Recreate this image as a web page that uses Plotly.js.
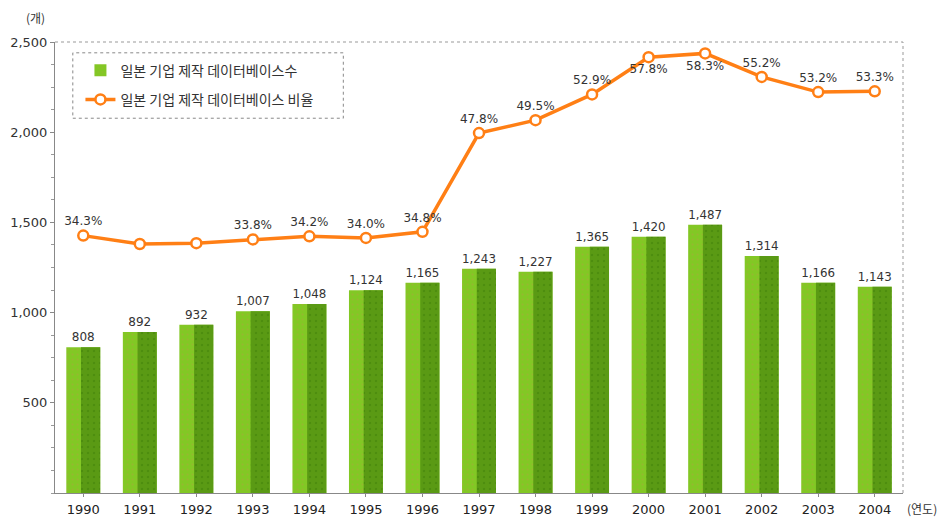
<!DOCTYPE html>
<html>
<head>
<meta charset="utf-8">
<script src="https://cdn.plot.ly/plotly-3.0.1.min.js"></script>
<style>html,body{margin:0;padding:0;background:#fff;}#chart{width:941px;height:521px;}</style>
</head>
<body>
<div id="chart"></div>
<script>
const years = ['1990','1991','1992','1993','1994','1995','1996','1997','1998','1999','2000','2001','2002','2003','2004'];
const dbCount = [808, 892, 932, 1007, 1048, 1124, 1165, 1243, 1227, 1365, 1420, 1487, 1314, 1166, 1143];
const dbRatio = [34.3, 33.2, 33.3, 33.8, 34.2, 34.0, 34.8, 47.8, 49.5, 52.9, 57.8, 58.3, 55.2, 53.2, 53.3];
const ratioLabels = ['34.3%','','','33.8%','34.2%','34.0%','34.8%','47.8%','49.5%','52.9%','57.8%','58.3%','55.2%','53.2%','53.3%'];
const ratioLabelPos = ['top center','top center','top center','top center','top center','top center','top center','top center','top center','top center','bottom center','bottom center','top center','top center','top center'];
const yTicks = [500, 1000, 1500, 2000, 2500];
const yTickText = ['500', '1,000', '1,500', '2,000', '2,500'];

const txtFont = {family: 'DejaVu Sans, sans-serif', size: 12, color: '#333'};

const traces = [
  {
    type: 'bar', x: years, y: dbCount, name: '일본 기업 제작 데이터베이스수',
    width: 0.6, offset: -0.3,
    marker: {color: '#82c824', line: {width: 0},
      pattern: {shape: '.', fgcolor: '#b0a040', size: 5, solidity: 0.12, fillmode: 'overlay'}},
    text: dbCount.map(v => v.toLocaleString('en-US')), textposition: 'outside',
    textfont: txtFont, cliponaxis: false, legendgroup: 'a', hoverinfo: 'x+y'
  },
  {
    type: 'bar', x: years, y: dbCount, showlegend: false,
    width: 0.34, offset: -0.04,
    marker: {color: '#5a9a14', line: {width: 0},
      pattern: {shape: '.', fgcolor: '#3f7f0a', size: 6, solidity: 0.12, fillmode: 'overlay'}},
    legendgroup: 'a', hoverinfo: 'skip'
  },
  {
    type: 'scatter', mode: 'lines+markers+text', x: years, y: dbRatio, yaxis: 'y2',
    name: '일본 기업 제작 데이터베이스 비율',
    line: {color: '#ff7f15', width: 3.5},
    marker: {symbol: 'circle', size: 10, color: '#ffffff', line: {color: '#ff7f15', width: 2.5}},
    text: ratioLabels, textposition: ratioLabelPos, textfont: txtFont,
    cliponaxis: false, legendgroup: 'b'
  }
];

const layout = {
  width: 941, height: 521,
  margin: {l: 55, r: 38, t: 42, b: 28},
  paper_bgcolor: '#ffffff', plot_bgcolor: '#ffffff',
  barmode: 'overlay',
  showlegend: true,
  legend: {
    x: 0.03, y: 0.972, xanchor: 'left', yanchor: 'top',
    bgcolor: 'rgba(0,0,0,0)', borderwidth: 0,
    font: {family: 'Noto Sans CJK KR, sans-serif', size: 14, color: '#333'},
    tracegroupgap: 8, traceorder: 'grouped'
  },
  xaxis: {
    type: 'category', range: [-0.5, 14.5],
    showline: true, linecolor: '#888', linewidth: 1,
    ticks: 'outside', ticklen: 3, tickcolor: '#888',
    tickfont: {family: 'DejaVu Sans, sans-serif', size: 13, color: '#222'},
    ticklabelstandoff: 1, showgrid: false, zeroline: false, fixedrange: true
  },
  yaxis: {
    range: [0, 2500], tickvals: yTicks, ticktext: yTickText,
    showline: true, linecolor: '#888', linewidth: 1,
    ticks: 'outside', ticklen: 4, tickcolor: '#888',
    minor: {dtick: 125, ticks: 'outside', ticklen: 3, tickcolor: '#999'},
    tickfont: {family: 'DejaVu Sans, sans-serif', size: 13, color: '#333'},
    showgrid: false, zeroline: false, fixedrange: true
  },
  yaxis2: {
    range: [0.4, 59.8], overlaying: 'y', side: 'right',
    visible: false, showgrid: false, zeroline: false, fixedrange: true
  },
  shapes: [
    {type: 'line', xref: 'paper', yref: 'paper', x0: 0, x1: 1, y0: 1, y1: 1,
      line: {color: '#999', width: 1, dash: 'dot'}},
    {type: 'line', xref: 'paper', yref: 'paper', x0: 1, x1: 1, y0: 0, y1: 1,
      line: {color: '#999', width: 1, dash: 'dot'}},
    {type: 'rect', xref: 'paper', yref: 'paper', x0: 0.021, x1: 0.34, y0: 0.831, y1: 0.976,
      line: {color: '#888', width: 1, dash: 'dot'}}
  ],
  annotations: [
    {text: '(개)', xref: 'paper', yref: 'paper', x: -0.023, y: 1.055, showarrow: false,
      xanchor: 'center', yanchor: 'middle',
      font: {family: 'Noto Sans CJK KR, sans-serif', size: 12, color: '#333'}},
    {text: '(연도)', xref: 'paper', yref: 'paper', x: 1.002, y: -0.034, showarrow: false,
      xanchor: 'left', yanchor: 'middle',
      font: {family: 'Noto Sans CJK KR, sans-serif', size: 12, color: '#333'}}
  ]
};

Plotly.newPlot('chart', traces, layout, {displayModeBar: false, staticPlot: true});
</script>
</body>
</html>
